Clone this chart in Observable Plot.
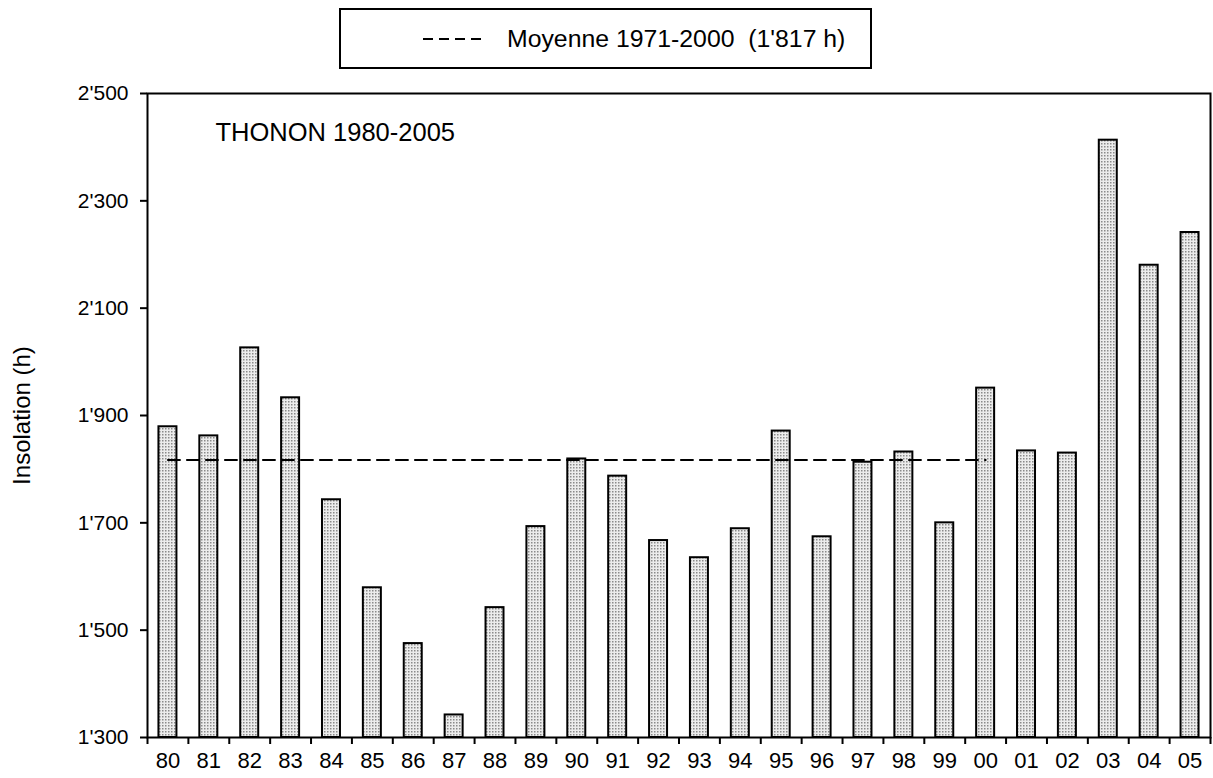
<!DOCTYPE html>
<html>
<head>
<meta charset="utf-8">
<script src="https://cdn.jsdelivr.net/npm/d3@7"></script>
<script src="https://cdn.jsdelivr.net/npm/@observablehq/plot@0.6"></script>
<style>
  body { margin: 0; background: #fff; font-family: "Liberation Sans", Arial, sans-serif; }
  #legend { position: relative; width: 1213px; height: 80px; }
  #legend .box {
    position: absolute; left: 339px; top: 8px; width: 533px; height: 61px;
    box-sizing: border-box; border: 2px solid #000;
    display: flex; align-items: center; padding-left: 82px;
  }
  #legend .box svg { margin-right: 26px; }
  #legend .box span { font-size: 24.8px; color: #000; white-space: pre; }
</style>
</head>
<body>
<div id="legend"><div class="box"><svg width="58" height="4"><line x1="0" y1="2" x2="58" y2="2" stroke="#000" stroke-width="2" stroke-dasharray="10,6"/></svg><span>Moyenne 1971-2000  (1'817 h)</span></div></div>
<div id="chart"></div>
<script>
const years = ["80","81","82","83","84","85","86","87","88","89","90","91","92","93","94","95","96","97","98","99","00","01","02","03","04","05"];
const hours = [1879,1862,2026,1933,1743,1579,1475,1342,1542,1693,1819,1787,1667,1635,1689,1871,1674,1813,1832,1700,1951,1834,1830,2413,2180,2241];
const meanYears = ["80","00"];
const meanValue = 1817;
const yTicks = [1300,1500,1700,1900,2100,2300,2500];
const yDomain = [1300,2500];
const stationLabel = "THONON 1980-2005";
const yLabel = "Insolation (h)";

const fmt = d3.formatLocale({decimal: ".", thousands: "'", grouping: [3], currency: ["", ""]}).format(",d");
const data = years.map((y, i) => ({year: y, hours: hours[i]}));
const meanData = meanYears.map(y => ({year: y, v: meanValue}));

const W = 1213, H = 698, mT = 13, mB = 41, mL = 147, mR = 3;
const step = (W - mL - mR) / years.length;
const pxPerUnit = (H - mT - mB) / (yDomain[1] - yDomain[0]);
const tickLen = 7 / pxPerUnit;

const chart = Plot.plot({
  width: W, height: H, marginTop: mT, marginBottom: mB, marginLeft: mL, marginRight: mR,
  style: {fontFamily: "'Liberation Sans', Arial, sans-serif", fontSize: "21px", color: "#000", background: "#fff"},
  x: {domain: years, paddingInner: 0.56, paddingOuter: 0.28, round: false, label: null},
  y: {domain: yDomain, label: null},
  marks: [
    Plot.barY(data, {x: "year", y1: yDomain[0], y2: "hours", fill: "url(#dots)", stroke: "#000", strokeWidth: 2}),
    Plot.line(meanData, {x: "year", y: "v", stroke: "#000", strokeWidth: 2, strokeDasharray: "12,7"}),
    Plot.frame({stroke: "#000", strokeWidth: 2}),
    Plot.axisY({ticks: yTicks, tickSize: 7, tickPadding: 12, tickFormat: fmt, fontSize: 21, strokeWidth: 2, label: null}),
    Plot.axisX({tickSize: 0, tickPadding: 15, fontSize: 22, label: null}),
    Plot.ruleX(years, {x: d => d, y1: yDomain[0], y2: yDomain[0] - tickLen, dx: -step / 2, stroke: "#000", strokeWidth: 2}),
    Plot.ruleX(years.slice(-1), {x: d => d, y1: yDomain[0], y2: yDomain[0] - tickLen, dx: step / 2, stroke: "#000", strokeWidth: 2}),
    Plot.text([stationLabel], {frameAnchor: "top-left", dx: 68, dy: 39, textAnchor: "start", lineAnchor: "middle", fontSize: 25.5}),
    Plot.text([yLabel], {frameAnchor: "left", dx: -125, rotate: -90, textAnchor: "middle", lineAnchor: "middle", fontSize: 24})
  ]
});

const ns = "http://www.w3.org/2000/svg";
const defs = document.createElementNS(ns, "defs");
defs.innerHTML = '<pattern id="dots" width="3" height="3" patternUnits="userSpaceOnUse"><rect width="3" height="3" fill="#ececec"/><rect width="1.5" height="1.5" fill="#8a8a8a"/></pattern>';
chart.insertBefore(defs, chart.firstChild);
document.getElementById("chart").appendChild(chart);
</script>
</body>
</html>
